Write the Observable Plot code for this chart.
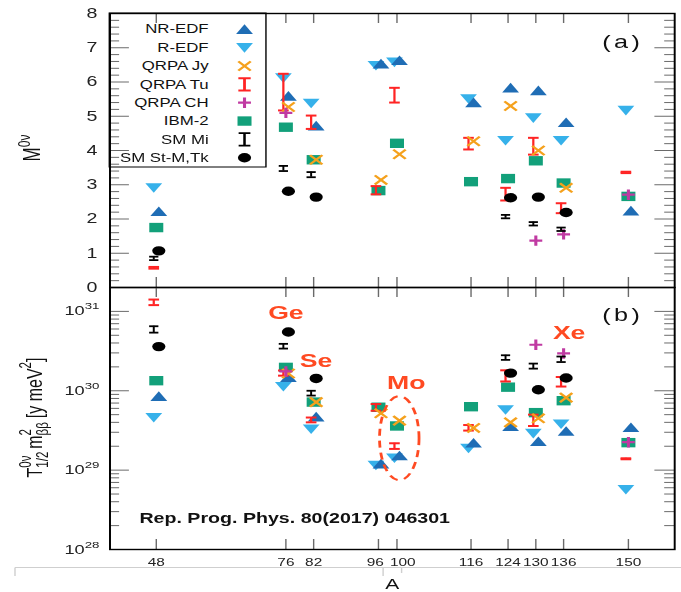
<!DOCTYPE html>
<html><head><meta charset="utf-8">
<script src="https://cdn.jsdelivr.net/npm/d3@7"></script>
<script src="https://cdn.jsdelivr.net/npm/@observablehq/plot@0.6"></script>
<style>
html,body{margin:0;padding:0;background:#fff;overflow:hidden;}
#outer{position:relative;width:681px;height:592px;overflow:hidden;background:#fff;}
#wrap{position:absolute;left:0;top:0;width:486px;height:592px;transform:scaleX(1.40123);transform-origin:0 0;font-family:"Liberation Sans",Arial,Helvetica,sans-serif;}
#wrap svg{position:absolute;left:0;top:0;}
</style></head><body><div id="outer"><div id="wrap"></div></div>
<script>
// ---------------- data ----------------
const nuclei = [48, 76, 82, 96, 100, 116, 124, 130, 136, 150];
const seriesNames = ["NR-EDF", "R-EDF", "QRPA Jy", "QRPA Tu", "QRPA CH", "IBM-2", "SM Mi", "SM St-M,Tk"];

// panel (a): M^0v
const aNREDF   = [2.22, 5.59, 4.72, 6.53, 6.63, 5.40, 5.83, 5.75, 4.82, 2.24];
const aREDF    = [2.91, 6.12, 5.38, 6.48, 6.58, 5.51, 4.29, 4.95, 4.29, 5.17];
const aQRPAJy  = [null, 5.27, 3.73, 3.14, 3.89, 4.27, 5.30, 4.00, 2.91, null];
const aQRPATuLo= [0.55, 5.17, 4.63, 2.72, 5.40, 4.03, 2.54, 3.88, 2.17, 3.34];
const aQRPATuHi= [0.60, 6.24, 5.02, 2.96, 5.83, 4.37, 2.91, 4.37, 2.46, 3.38];
const aQRPACH  = [null, 5.10, null, null, null, null, null, 1.37, 1.55, 2.71];
const aIBM2    = [1.75, 4.68, 3.73, 2.83, 4.21, 3.09, 3.18, 3.70, 3.05, 2.66];
const aSMMiLo  = [0.80, 3.40, 3.22, null, null, null, 2.02, 1.81, 1.65, null];
const aSMMiHi  = [0.90, 3.55, 3.37, null, null, null, 2.12, 1.91, 1.75, null];
const aSMStM   = [1.07, 2.81, 2.64, null, null, null, 2.62, 2.64, 2.19, null];

// panel (b): T1/2 * m_bb^2  [y meV^2]
const bNREDF   = [8.5e29, 1.47e30, 4.7e29, 1.2e29, 1.52e29, 2.2e29, 3.55e29, 2.3e29, 3.1e29, 3.45e29];
const bREDF    = [4.6e29, 1.13e30, 3.3e29, 1.15e29, 1.42e29, 1.88e29, 5.75e29, 2.9e29, 3.8e29, 5.7e28];
const bQRPAJy  = [null, 1.65e30, 7.2e29, 5.2e29, 4.2e29, 3.4e29, 4.0e29, 4.5e29, 8.2e29, null];
const bQRPATuLo= [1.20e31, 1.55e30, 4.0e29, 5.6e29, 1.85e29, 3.15e29, 1.31e30, 3.6e29, 1.13e30, 1.37e29];
const bQRPATuHi= [1.41e31, 1.80e30, 4.6e29, 6.8e29, 2.18e29, 3.7e29, 1.81e30, 5.0e29, 1.49e30, 1.41e29];
const bQRPACH  = [null, 1.75e30, null, null, null, null, null, 3.8e30, 2.95e30, 2.25e29];
const bIBM2    = [1.34e30, 1.97e30, 7.2e29, 6.2e29, 3.6e29, 6.3e29, 1.11e30, 5.3e29, 7.5e29, 2.22e29];
const bSMMiLo  = [5.4e30, 3.4e30, 8.7e29, null, null, null, 2.45e30, 1.9e30, 2.3e30, null];
const bSMMiHi  = [6.5e30, 3.9e30, 1.0e30, null, null, null, 2.8e30, 2.2e30, 2.7e30, null];
const bSMStM   = [3.6e30, 5.5e30, 1.43e30, null, null, null, 1.67e30, 1.03e30, 1.45e30, null];

// ticks
const aTicks = [0, 1, 2, 3, 4, 5, 6, 7, 8];
const bDecades = [1e28, 1e29, 1e30, 1e31];
const bExponents = ["28", "29", "30", "31"];
const xTickLabels = nuclei;

// annotations in panel (b)
const noteText = ["Ge", "Se", "Mo", "Xe"];
const noteA    = [76, 82.5, 102, 137.2];
const noteT    = [9.5e30, 2.4e30, 1.26e30, 5.4e30];
const moEllipse = {A: 100.65, T: 2.49e29};

// ---------------- styles ----------------
const FONT = '"Liberation Sans", Arial, Helvetica, sans-serif';
const C = {nredf:"#1f6db5", redf:"#36b1ea", jy:"#f5a11c", tu:"#ff2424", ch:"#c03aa2", ibm:"#12a07a", sm:"#000000"};
const TICK = "#6a6a6a";
const W = 486, H = 592;
const ML = 78, MR = 5, TOPA = 13, MID = 287, BOTB = 549;
const PW = W - ML - MR;
const PHA = MID - TOPA, PHB = BOTB - MID;
const OFF = 1.8;

const sym = {
  triUp:   {draw(c){c.moveTo(0,-5.0);c.lineTo(6,4.6);c.lineTo(-6,4.6);c.closePath();}},
  triDown: {draw(c){c.moveTo(0,5.0);c.lineTo(6,-4.6);c.lineTo(-6,-4.6);c.closePath();}},
  square:  {draw(c){c.rect(-5,-4.7,10,9.4);}},
  circle:  {draw(c){c.moveTo(4.7,0);c.arc(0,0,4.7,0,2*Math.PI);}},
  cross:   {draw(c){c.moveTo(-4.4,-4.6);c.lineTo(4.4,4.6);c.moveTo(4.4,-4.6);c.lineTo(-4.4,4.6);}},
  plus:    {draw(c){c.moveTo(-4.6,0);c.lineTo(4.6,0);c.moveTo(0,-5.2);c.lineTo(0,5.2);}},
  capTu:   {draw(c){c.moveTo(-3.8,0);c.lineTo(3.8,0);}},
  capMi:   {draw(c){c.moveTo(-3.3,0);c.lineTo(3.3,0);}}
};

const pts = (vals) => nuclei.map((A,i)=>({A, v: vals[i]})).filter(d => d.v != null);
const bars = (lo, hi) => nuclei.map((A,i)=>({A, lo: lo[i], hi: hi[i]})).filter(d => d.lo != null);

function dataMarks(s) {
  const tu = bars(s.tuLo, s.tuHi), mi = bars(s.miLo, s.miHi);
  return [
    Plot.dot(pts(s.ibm), {x:"A", y:"v", symbol: sym.square, fill: C.ibm, stroke: "none"}),
    Plot.dot(pts(s.redf), {x:"A", y:"v", symbol: sym.triDown, fill: C.redf, stroke: "none", dx: -OFF}),
    Plot.dot(pts(s.nredf), {x:"A", y:"v", symbol: sym.triUp, fill: C.nredf, stroke: "none", dx: OFF}),
    Plot.ruleX(tu, {x:"A", y1:"lo", y2:"hi", stroke: C.tu, strokeWidth: 1.6, dx: -OFF}),
    Plot.dot(tu, {x:"A", y:"lo", symbol: sym.capTu, fill:"none", stroke: C.tu, strokeWidth: 2, dx: -OFF}),
    Plot.dot(tu, {x:"A", y:"hi", symbol: sym.capTu, fill:"none", stroke: C.tu, strokeWidth: 2, dx: -OFF}),
    Plot.dot(pts(s.jy), {x:"A", y:"v", symbol: sym.cross, fill:"none", stroke: C.jy, strokeWidth: 2, dx: OFF}),
    Plot.dot(pts(s.ch), {x:"A", y:"v", symbol: sym.plus, fill:"none", stroke: C.ch, strokeWidth: 2.2}),
    Plot.ruleX(mi, {x:"A", y1:"lo", y2:"hi", stroke: C.sm, strokeWidth: 1.4, dx: -OFF}),
    Plot.dot(mi, {x:"A", y:"lo", symbol: sym.capMi, fill:"none", stroke: C.sm, strokeWidth: 1.8, dx: -OFF}),
    Plot.dot(mi, {x:"A", y:"hi", symbol: sym.capMi, fill:"none", stroke: C.sm, strokeWidth: 1.8, dx: -OFF}),
    Plot.dot(pts(s.stm), {x:"A", y:"v", symbol: sym.circle, fill: C.sm, stroke: "none", dx: OFF})
  ];
}

function xTickRules(ph) {
  return [
    Plot.ruleX(nuclei, {x: d => d, stroke: TICK, strokeWidth: 1, insetBottom: ph - 10}),
    Plot.ruleX(nuclei, {x: d => d, stroke: TICK, strokeWidth: 1, insetTop: ph - 10})
  ];
}
function yTickRules(vals, len) {
  return [
    Plot.ruleY(vals, {y: d => d, stroke: TICK, strokeWidth: 1, insetRight: PW - len}),
    Plot.ruleY(vals, {y: d => d, stroke: TICK, strokeWidth: 1, insetLeft: PW - len})
  ];
}

const svgStyle = {background: "transparent", overflow: "visible", fontFamily: FONT, color: "#222"};
const wrap = document.getElementById("wrap");

// ---------------- overlay (legend, titles) ----------------
const ov = d3.select(wrap).append("svg").attr("width", W).attr("height", H)
  .style("font-family", FONT).style("overflow", "visible");

// legend box
const LX0 = 78, LX1 = 189.8, LY0 = 13, LY1 = 167;
ov.append("rect").attr("x", LX0).attr("y", LY0).attr("width", LX1 - LX0).attr("height", LY1 - LY0)
  .attr("fill", "#fff").attr("stroke", "#000").attr("stroke-width", 1);
const legendSpec = [
  {sym: sym.triUp, fill: C.nredf},
  {sym: sym.triDown, fill: C.redf},
  {sym: sym.cross, stroke: C.jy, sw: 2},
  {bar: true, stroke: C.tu, half: 4.4, len: 6.2, sw: 2},
  {sym: sym.plus, stroke: C.ch, sw: 2.2},
  {sym: sym.square, fill: C.ibm},
  {bar: true, stroke: C.sm, half: 4.2, len: 6.3, sw: 1.8},
  {sym: sym.circle, fill: C.sm}
];
seriesNames.forEach((name, i) => {
  const y = 29.3 + i * 18.35;
  ov.append("text").attr("x", 148.9).attr("y", y).attr("dy", "0.35em").attr("text-anchor", "end")
    .attr("font-size", 12).attr("fill", "#111").text(name);
  const s = legendSpec[i];
  const p = d3.path();
  if (s.bar) {
    p.moveTo(0, -s.len); p.lineTo(0, s.len);
    p.moveTo(-s.half, -s.len); p.lineTo(s.half, -s.len);
    p.moveTo(-s.half, s.len); p.lineTo(s.half, s.len);
  } else {
    s.sym.draw(p);
  }
  ov.append("path").attr("d", p.toString()).attr("transform", `translate(174.5,${y})`)
    .attr("fill", s.fill || "none").attr("stroke", s.stroke || "none").attr("stroke-width", s.sw || 0);
});

// panel labels
ov.append("text").attr("x", 444.5).attr("y", 42).attr("dy", "0.35em").attr("text-anchor", "middle")
  .attr("font-size", 18).attr("letter-spacing", 2.5).attr("fill", "#111").text("(a)");
ov.append("text").attr("x", 444.5).attr("y", 315).attr("dy", "0.35em").attr("text-anchor", "middle")
  .attr("font-size", 18).attr("letter-spacing", 2.5).attr("fill", "#111").text("(b)");

// y title (a)
{
  const t = ov.append("text").attr("transform", "translate(28.6,148) rotate(-90)")
    .attr("text-anchor", "middle").attr("font-size", 17).attr("fill", "#111");
  t.append("tspan").text("M");
  t.append("tspan").attr("font-size", 12).attr("dy", -7).text("0ν");
}
// y title (b)
{
  const g = ov.append("g").attr("fill", "#111");
  let x = 0;
  const put = (txt, fs, y) => {
    const el = g.append("text").attr("x", x).attr("y", y).attr("font-size", fs).text(txt);
    return el.node().getComputedTextLength();
  };
  x += put("T", 16, 0);
  let w1 = put("0ν", 11.5, -7.5), w2 = put("1/2", 11.5, 4.5); x += Math.max(w1, w2) + 3;
  x += put("m", 16, 0);
  w1 = put("2", 11.5, -7.5); w2 = put("ββ", 11.5, 4.5); x += Math.max(w1, w2) + 4;
  x += put("[y meV", 16, 0);
  x += put("2", 11.5, -7.5);
  x += put("]", 16, 0);
  g.attr("transform", `translate(29.8,${417.5 + x / 2}) rotate(-90)`);
}
// x title
ov.append("text").attr("x", 280).attr("y", 589).attr("text-anchor", "middle").attr("font-size", 15)
  .attr("fill", "#111").text("A");
// thin grey border line below the axis labels (as in the picture)
ov.append("path").attr("d", "M10.7,567.5H486M10.7,567.5V576M273.4,567.5V576M286.6,567.5V573")
  .attr("stroke", "#cfcfcf").attr("fill", "none").attr("stroke-width", 1);

// ---------------- panel (a) ----------------
const aMinor = d3.range(1, 40).map(k => k / 5).filter(v => Math.abs(v - Math.round(v)) > 1e-9);
const pa = Plot.plot({
  width: W, height: H, marginLeft: ML, marginRight: MR, marginTop: TOPA, marginBottom: H - MID,
  style: svgStyle,
  x: {domain: [38, 160], axis: null},
  y: {domain: [0, 8]},
  marks: [
    ...yTickRules(aTicks.slice(1, -1), 14),
    ...yTickRules(aMinor, 7),
    ...xTickRules(PHA),
    Plot.axisY(aTicks, {tickSize: 0, tickPadding: 9, fontSize: 14, label: null}),
    ...dataMarks({ibm: aIBM2, redf: aREDF, nredf: aNREDF, tuLo: aQRPATuLo, tuHi: aQRPATuHi, jy: aQRPAJy,
                  ch: aQRPACH, miLo: aSMMiLo, miHi: aSMMiHi, stm: aSMStM}),
    Plot.frame({stroke: "#000", strokeWidth: 1.4})
  ]
});
wrap.appendChild(pa);

// ---------------- panel (b) ----------------
const bMinor = [];
bDecades.slice(0, 3).forEach(dec => { for (let k = 2; k <= 9; k++) bMinor.push(k * dec); });
const pb = Plot.plot({
  width: W, height: H, marginLeft: ML, marginRight: MR, marginTop: MID, marginBottom: H - BOTB,
  style: svgStyle,
  x: {domain: [38, 160]},
  y: {type: "log", domain: [1e28, 2e31], axis: null},
  marks: [
    ...yTickRules(bDecades.slice(1), 14),
    ...yTickRules(bMinor, 7),
    ...xTickRules(PHB),
    Plot.axisX(xTickLabels.filter(d => d !== 96 && d !== 100), {tickSize: 0, tickPadding: 9, fontSize: 11, label: null}),
    Plot.axisX([96], {tickSize: 0, tickPadding: 9, fontSize: 11, label: null, dx: -2.3}),
    Plot.axisX([100], {tickSize: 0, tickPadding: 9, fontSize: 11, label: null, dx: 4.1}),
    ...dataMarks({ibm: bIBM2, redf: bREDF, nredf: bNREDF, tuLo: bQRPATuLo, tuHi: bQRPATuHi, jy: bQRPAJy,
                  ch: bQRPACH, miLo: bSMMiLo, miHi: bSMMiHi, stm: bSMStM}),
    Plot.text(noteText.map((t, i) => ({t, A: noteA[i], T: noteT[i]})), {x: "A", y: "T", text: "t",
      fontSize: 19, fontWeight: "bold", fill: "#ff4a22", lineAnchor: "middle"}),
    Plot.text(["Rep. Prog. Phys. 80(2017) 046301"], {frameAnchor: "bottom-left", dx: 21, dy: -30.5,
      textAnchor: "start", lineAnchor: "middle", fontSize: 14, fontWeight: "bold", fill: "#111"}),
    Plot.frame({stroke: "#000", strokeWidth: 1.4})
  ]
});
wrap.appendChild(pb);
{
  const xs = pb.scale("x"), ys = pb.scale("y");
  d3.select(pb).append("ellipse")
    .attr("cx", xs.apply(moEllipse.A)).attr("cy", ys.apply(moEllipse.T))
    .attr("rx", 14.1).attr("ry", 42)
    .attr("fill", "none").attr("stroke", "#ff4a22").attr("stroke-width", 2)
    .attr("stroke-dasharray", "7,5");
  // log-axis tick labels 10^n placed with the panel's y scale
  bDecades.forEach((d, i) => {
    const t = ov.append("text").attr("x", ML - 7).attr("y", ys.apply(d)).attr("dy", "0.35em")
      .attr("text-anchor", "end").attr("font-size", 13).attr("fill", "#222");
    t.append("tspan").text("10");
    t.append("tspan").attr("font-size", 9.5).attr("dy", -6).text(bExponents[i]);
  });
}
</script></body></html>
